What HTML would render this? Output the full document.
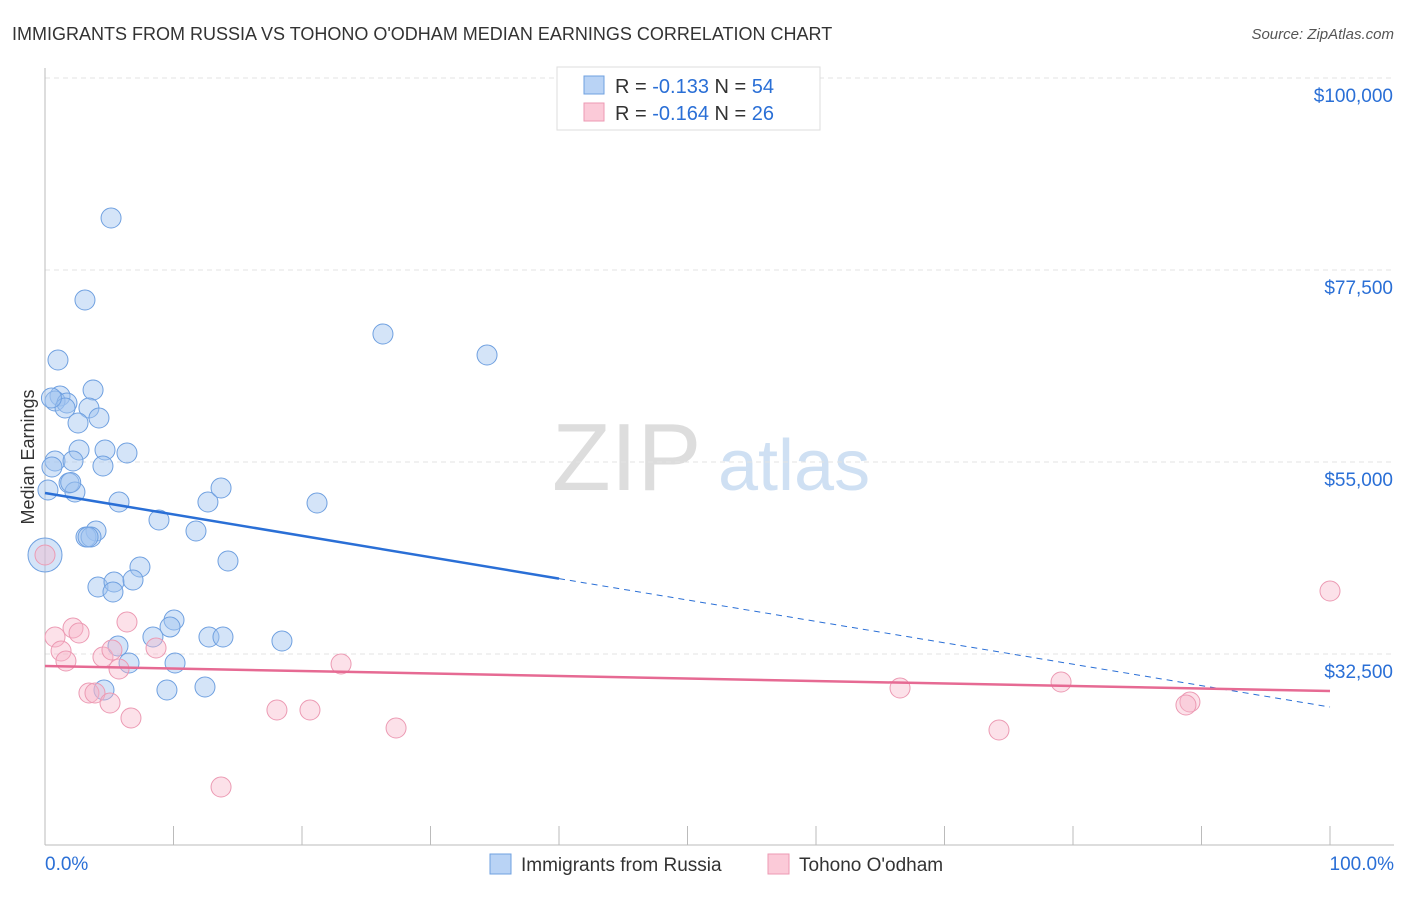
<!DOCTYPE html>
<html><head><meta charset="utf-8"><style>
body{margin:0;background:#fff;font-family:"Liberation Sans",sans-serif}
svg text{font-family:"Liberation Sans",sans-serif}
</style></head><body>
<svg id="c" width="1406" height="892" xmlns="http://www.w3.org/2000/svg">
<text x="12" y="40" font-size="18" fill="#333">IMMIGRANTS FROM RUSSIA VS TOHONO O'ODHAM MEDIAN EARNINGS CORRELATION CHART</text>
<text x="1394" y="39" font-size="15" fill="#555" text-anchor="end" font-style="italic">Source: ZipAtlas.com</text>
<text x="34" y="457" font-size="18" fill="#333" text-anchor="middle" transform="rotate(-90 34 457)">Median Earnings</text>
<g><text x="552" y="490" font-size="96" fill="#ddd" font-family="Liberation Serif">ZIP</text><text x="718" y="490" font-size="72" fill="#cfe0f3">atlas</text></g>
<g id="grid"></g><g id="pts"></g><g id="trend"></g>
<g>
<rect x="557" y="67" width="263" height="63" fill="#fff" stroke="#ddd"/>
<rect x="584" y="76" width="20" height="18" fill="#b9d3f5" stroke="#6fa0e0"/>
<rect x="584" y="103" width="20" height="18" fill="#fbcad8" stroke="#ec9ab3"/>
<text x="615" y="93" font-size="20" fill="#333">R = <tspan fill="#2a6fd6">-0.133</tspan>   N = <tspan fill="#2a6fd6">54</tspan></text>
<text x="615" y="120" font-size="20" fill="#333">R = <tspan fill="#2a6fd6">-0.164</tspan>   N = <tspan fill="#2a6fd6">26</tspan></text>
</g>
<g>
<rect x="490" y="854" width="21" height="20" fill="#b9d3f5" stroke="#6fa0e0"/>
<text x="521" y="871" font-size="19" fill="#333">Immigrants from Russia</text>
<rect x="768" y="854" width="21" height="20" fill="#fbcad8" stroke="#ec9ab3"/>
<text x="799" y="871" font-size="19" fill="#333">Tohono O'odham</text>
</g>
</svg>
<script>
const yTicks=[32500,55000,77500,100000];
const yTickLabels=["$32,500","$55,000","$77,500","$100,000"];
const xTickLabels=["0.0%","100.0%"];
const russiaX=[5.14,3.11,26.3,34.4,1.01,3.74,1.17,0.78,1.71,1.56,3.42,4.2,2.57,2.65,4.67,6.38,0.78,2.18,4.51,0.54,1.87,2.33,5.76,12.68,13.7,21.17,8.87,11.75,3.97,3.19,3.58,0,14.24,7.39,4.12,5.37,6.85,5.29,10.04,9.73,8.4,12.76,13.85,18.44,5.68,10.12,6.54,4.59,9.49,12.45,0.23,3.35,0.5,2.0];
const russiaY=[83595,73985,70000,67540,66954,63438,62735,62149,61915,61329,61329,60157,59571,56407,56407,56055,55118,55118,54532,54415,52540,51485,50313,50313,51954,50196,48203,46914,46914,46211,46211,44102,43399,42696,40352,40938,41172,39766,36484,35664,34492,34492,34492,34023,33438,31445,31445,28281,28281,28633,51719,46211,62500,52600];
const tohonoX=[0,0.78,2.18,2.65,1.25,1.63,6.38,8.64,4.51,5.21,5.76,3.42,3.89,5.06,6.69,18.05,20.62,23.04,27.32,13.7,66.54,74.24,79.07,89.1,88.79,100];
const tohonoY=[44102,34492,35547,34961,32852,31680,36250,33203,32148,32969,30742,27930,27930,26758,25000,25937,25937,31328,23828,16914,28516,23594,29219,26875,26523,39883];
const russiaTrend=[51367,26289];
const tohonoTrend=[31094,28164];
const NS="http://www.w3.org/2000/svg";
const X=v=>45+v*12.85;
const Y=v=>654-(v-32500)/117.19;
function mk(tag,attrs,parent){const e=document.createElementNS(NS,tag);for(const k in attrs)e.setAttribute(k,attrs[k]);parent.appendChild(e);return e;}
const grid=document.getElementById('grid');
yTicks.forEach((t,i)=>{
 const l=mk('line',{x1:45,x2:1394,y1:Y(t),y2:Y(t),stroke:'#e3e3e3','stroke-dasharray':'5,4'},grid);
 
 
 const tx=mk('text',{x:1393,y:Y(t)+24,'font-size':19,fill:'#2a6fd6','text-anchor':'end'},grid);
 tx.textContent=yTickLabels[i];
 
 
});
const ax=mk('line',{x1:45,x2:45,y1:68,y2:845,stroke:'#bbb'},grid);


const bx=mk('line',{x1:45,x2:1394,y1:845,y2:845,stroke:'#bbb'},grid);


for(let i=0;i<=10;i++){const t=mk('line',{x1:X(i*10),x2:X(i*10),y1:826,y2:845,stroke:'#bbb'},grid);
 
 }
[[0,'start',45],[100,'end',1394]].forEach((p,i)=>{const t=mk('text',{x:p[2],y:870,'font-size':19,fill:'#2a6fd6','text-anchor':p[1]},grid);t.textContent=xTickLabels[i];
 
 });
const pts=document.getElementById('pts');
russiaX.forEach((x,i)=>{const r=(x===0)?17:10;const c=mk('circle',{cx:X(x),cy:Y(russiaY[i]),r:r,fill:'rgba(160,196,240,0.45)',stroke:'#6fa0e0','stroke-width':1},pts);
 
 });
tohonoX.forEach((x,i)=>{const c=mk('circle',{cx:X(x),cy:Y(tohonoY[i]),r:10,fill:'rgba(248,180,200,0.4)',stroke:'#ec9ab3','stroke-width':1},pts);
 
 });
const tr=document.getElementById('trend');
const ry=x=>russiaTrend[0]+(russiaTrend[1]-russiaTrend[0])*x/100;
const l1=mk('line',{x1:X(0),y1:Y(ry(0)),x2:X(40),y2:Y(ry(40)),stroke:'#2a6fd6','stroke-width':2.5},tr);


const l2=mk('line',{x1:X(40),y1:Y(ry(40)),x2:X(100),y2:Y(ry(100)),stroke:'#2a6fd6','stroke-width':1,'stroke-dasharray':'6,5'},tr);


const l3=mk('line',{x1:X(0),y1:Y(tohonoTrend[0]),x2:X(100),y2:Y(tohonoTrend[1]),stroke:'#e66a93','stroke-width':2.5},tr);


</script>
</body></html>
